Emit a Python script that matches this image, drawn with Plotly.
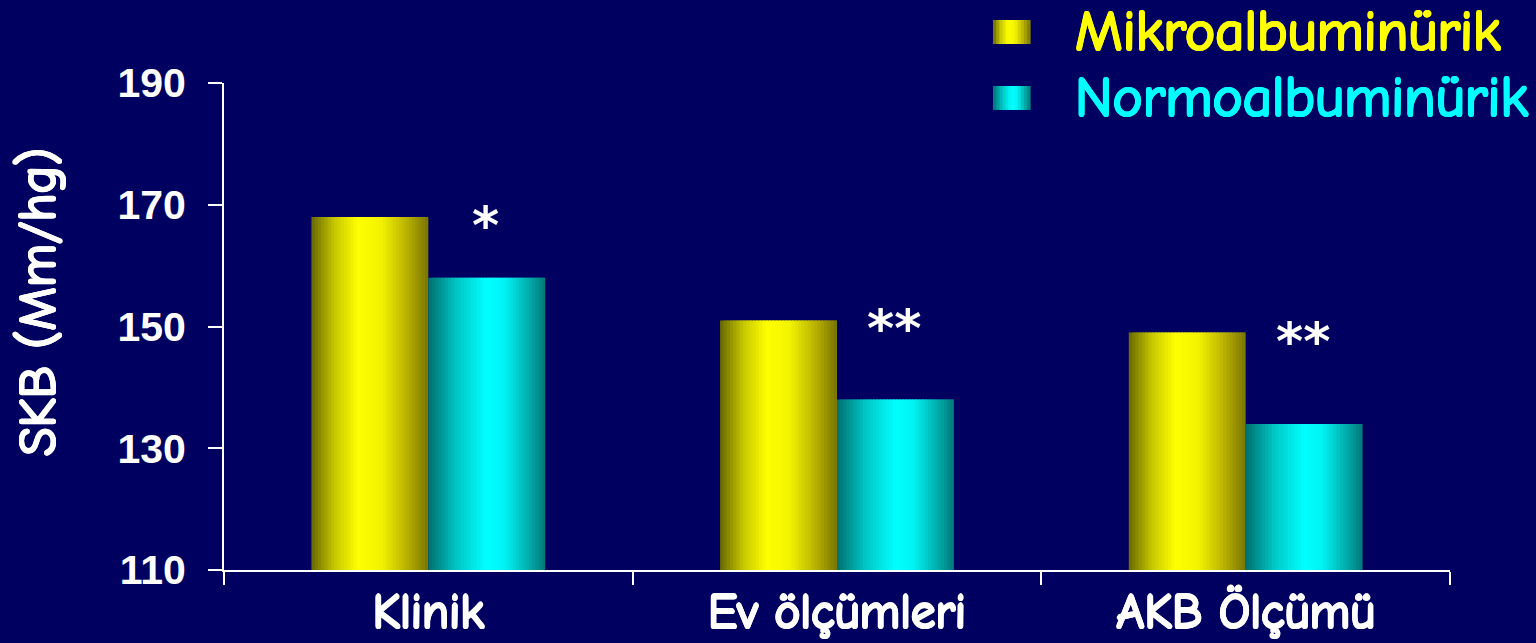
import plotly.graph_objects as go

# ---- data ----
categories = ["Klinik", "Ev ölçümleri", "AKB Ölçümü"]
mikro_values = [168, 151, 149]
normo_values = [158, 138, 134]
series_names = ["Mikroalbuminürik", "Normoalbuminürik"]
significance = ["*", "**", "**"]
y_ticks = [110, 130, 150, 170, 190]
y_title = "SKB (Mm/hg)"

# ---- style ----
BG = "#000060"
COMIC = "Comic Neue, Comic Sans MS, Lato, sans-serif"
ARIAL = "Arial, Liberation Sans, sans-serif"
BAR_W = 0.286
N_STRIPS = 36
PLOT_L, PLOT_R, PLOT_T, PLOT_B = 224, 1450, 83, 570


def bold_shadow(color, d=1.0):
    return ", ".join(f"{dx}px {dy}px 0 {color}" for dx, dy in
                     [(d, 0), (-d, 0), (0, d), (0, -d), (d * 0.7, d * 0.7), (-d * 0.7, d * 0.7),
                      (d * 0.7, -d * 0.7), (-d * 0.7, -d * 0.7)])


def px_x(x):
    return (x - PLOT_L) / (PLOT_R - PLOT_L)


def px_y(y):
    return (PLOT_B - y) / (PLOT_B - PLOT_T)


yellow_stops = [(0.0, (0x68, 0x68, 0x00)), (0.2, (0xc8, 0xc8, 0x00)), (0.4, (0xff, 0xff, 0x00)),
                (0.6, (0xf2, 0xf2, 0x00)), (0.82, (0xb8, 0xb0, 0x00)), (1.0, (0x78, 0x74, 0x00))]
cyan_stops = [(0.0, (0x00, 0x70, 0x70)), (0.25, (0x00, 0xc8, 0xc8)), (0.5, (0x00, 0xff, 0xff)),
              (0.65, (0x00, 0xf4, 0xf4)), (0.85, (0x00, 0xb0, 0xb0)), (1.0, (0x00, 0x78, 0x78))]


def grad(stops, t):
    for (t0, c0), (t1, c1) in zip(stops[:-1], stops[1:]):
        if t0 <= t <= t1:
            f = (t - t0) / (t1 - t0) if t1 > t0 else 0
            c = [round(a + (b - a) * f) for a, b in zip(c0, c1)]
            return "rgb(%d,%d,%d)" % tuple(c)
    c = stops[-1][1]
    return "rgb(%d,%d,%d)" % c


fig = go.Figure()

for values, stops, base in [(mikro_values, yellow_stops, -BAR_W), (normo_values, cyan_stops, 0.0)]:
    step = BAR_W / N_STRIPS
    for i in range(N_STRIPS):
        off = base + i * step
        w = min(step * 1.8, BAR_W - i * step)
        fig.add_trace(go.Bar(
            x=categories, y=values, offset=off, width=w,
            marker=dict(color=grad(stops, (i + 0.5) / N_STRIPS), line=dict(width=0)),
            showlegend=False, hoverinfo="skip" if i else "x+y",
        ))

# significance stars
for cat, m, s in zip(categories, mikro_values, significance):
    fig.add_annotation(x=cat, y=m, text=s, showarrow=False, xshift=57, yshift=-8,
                       yanchor="middle",
                       font=dict(family="DejaVu Sans", size=52, color="white", weight="bold"))

# manual legend
legend_colors_text = ["#ffff00", "#00ffff"]
legend_stops = [yellow_stops, cyan_stops]
legend_rows = [32, 98]
for name, tc, stops, yc in zip(series_names, legend_colors_text, legend_stops, legend_rows):
    n = 12
    x0, x1 = 993, 1030
    for i in range(n):
        fig.add_shape(type="rect", xref="paper", yref="paper",
                      x0=px_x(x0 + (x1 - x0) * i / n),
                      x1=px_x(x0 + (x1 - x0) * (i + 1) / n + 0.6),
                      y0=px_y(yc + 12), y1=px_y(yc - 12),
                      fillcolor=grad(stops, (i + 0.5) / n), line=dict(width=0), layer="above")
    fig.add_annotation(xref="paper", yref="paper", x=px_x(1073), y=px_y(yc),
                       xanchor="left", yanchor="middle", text=name, showarrow=False,
                       font=dict(family=COMIC, size=57, color=tc, shadow=bold_shadow(tc, 1.2)))

# y-axis title
fig.add_annotation(xref="paper", yref="paper", x=px_x(38), y=px_y(302), textangle=-90,
                   xanchor="center", yanchor="middle", text=y_title, showarrow=False,
                   font=dict(family=COMIC, size=52, color="white", shadow=bold_shadow("white", 1.2)))

fig.update_layout(
    width=1536, height=643,
    paper_bgcolor=BG, plot_bgcolor=BG,
    barmode="overlay",
    margin=dict(l=PLOT_L, r=1536 - PLOT_R, t=PLOT_T, b=643 - PLOT_B, autoexpand=False),
    showlegend=False,
    xaxis=dict(
        type="category", categoryorder="array", categoryarray=categories,
        tickson="boundaries", ticks="outside", ticklen=13, tickwidth=2, tickcolor="white",
        showline=True, linecolor="white", linewidth=2, showgrid=False, zeroline=False,
        automargin=False, ticklabelstandoff=-3,
        tickfont=dict(family=COMIC, size=49, color="white", shadow=bold_shadow("white", 1.3)),
        range=[-0.5, 2.5],
    ),
    yaxis=dict(
        range=[110, 190], tickvals=y_ticks, ticks="outside", ticklen=14, tickwidth=2,
        tickcolor="white", showline=True, linecolor="white", linewidth=2,
        showgrid=False, zeroline=False, ticklabelstandoff=14, automargin=False,
        tickfont=dict(family=ARIAL, size=41, color="white", weight="bold"),
    ),
)

fig.write_html("out.html", config={"displayModeBar": False},
               post_script="document.body.style.margin='0';")
